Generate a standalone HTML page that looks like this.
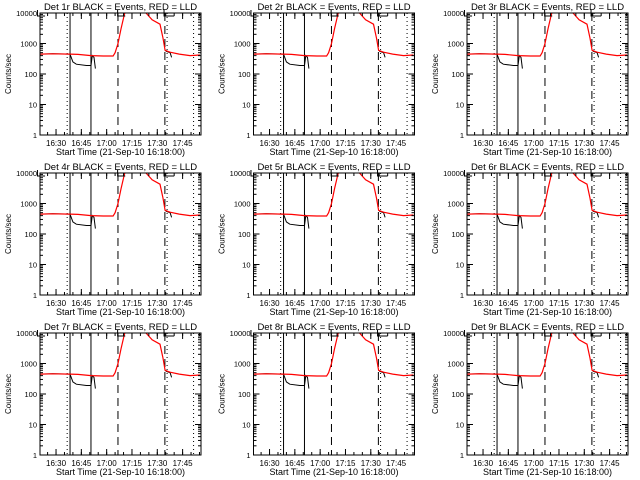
<!DOCTYPE html>
<html><head><meta charset="utf-8"><style>
html,body{margin:0;padding:0;background:#fff}
svg{display:block}
text{font-family:"Liberation Sans",sans-serif;fill:#000}
</style></head><body>
<svg id="chart" width="640" height="480" viewBox="0 0 640 480" xmlns="http://www.w3.org/2000/svg"></svg>
<script>
// data: time in minutes after 16:18:00
const detectors = ['1r','2r','3r','4r','5r','6r','7r','8r','9r'];
const xTickLabels = ['16:30','16:45','17:00','17:15','17:30','17:45'];
const xTickMinutes = [12,27,42,57,72,87];
const yTickValues = [1,10,100,1000,10000];
const yTickLabels = ['1','10','100','1000','10000'];
const redTimes = [2.5,10,20.3,25,32.7,40,45.8,47,48.7,50.5,52.3,53.5,65.3,68.9,73.6,75.4,76.6,79.6,85,91.4,97.3];
const redValues = [450,460,450,440,400,390,390,500,1000,3000,8000,14000,10000,6000,4300,1500,600,520,450,400,420];
// black series: null marks a data gap
const blackTimes = [2.5,10,20.3,22,24,30,32.7,33.5,34.5,35.3,null,77,79.6,80.5];
const blackValues = [450,460,450,250,210,190,190,400,350,150,null,560,500,350];
const vLineTimes = [18.6,20.3,32.7,48.7,76.5,77.8];
const vLineStyles = ['dot','solid','solid','dash','dash','dot'];
const extraDotTime = 93.5;

const NS='http://www.w3.org/2000/svg';
const svg=document.getElementById('chart');
function mk(tag,attrs,parent){const e=document.createElementNS(NS,tag);for(const k in attrs)e.setAttribute(k,attrs[k]);(parent||svg).appendChild(e);return e;}

const T0=2.5,T1=97.9,W=161,H=122;
detectors.forEach((d,i)=>{
  const ox=40+(i%3)*213.5, oy=13+Math.floor(i/3)*160;
  const g=mk('g',{});
  
  
  const xs=t=>ox+(t-T0)/(T1-T0)*W;
  const ys=v=>oy+H-Math.log10(v)/4*H;
  const clip=mk('clipPath',{id:'c'+i},g);
  mk('rect',{x:ox,y:oy,width:W,height:H},clip);
  const dashes={dot:'1,3',solid:'none',dash:'8,5'};
  vLineTimes.forEach((t,k)=>{
    const l=mk('line',{x1:xs(t),x2:xs(t),y1:oy,y2:oy+H,stroke:'#000','stroke-width':1,'stroke-dasharray':dashes[vLineStyles[k]]},g);
    
    
  });
  const ed=mk('line',{x1:xs(extraDotTime),x2:xs(extraDotTime),y1:oy,y2:oy+H,stroke:'#000','stroke-dasharray':'1,3'},g);
  
  
  // black series with gaps
  let bd='',pen=false;
  blackTimes.forEach((t,k)=>{
    if(t===null||blackValues[k]===null){pen=false;return;}
    bd+=(pen?'L':'M')+xs(t).toFixed(1)+','+ys(blackValues[k]).toFixed(1)+' ';pen=true;
  });
  const bl=mk('path',{d:bd,fill:'none',stroke:'#000','stroke-width':1,'clip-path':'url(#c'+i+')'},g);
  
  
  const rp=redTimes.map((t,k)=>xs(t).toFixed(1)+','+ys(redValues[k]).toFixed(1)).join(' ');
  const rl=mk('polyline',{points:rp,fill:'none',stroke:'#f00','stroke-width':1.2,'clip-path':'url(#c'+i+')'},g);
  
  
  [[1,3.5,5.5],[48.5,51.5,53],[76,80,82]].forEach(b=>{
    mk('path',{d:`M${xs(b[0])},${oy-3} V${oy+3} H${xs(b[2])}`,fill:'none',stroke:'#000'},g);
  });
  const box=mk('rect',{x:ox,y:oy,width:W,height:H,fill:'none',stroke:'#000','stroke-width':1},g);
  
  
  yTickValues.forEach((v,k)=>{
    const y=ys(v);
    mk('line',{x1:ox,x2:ox+6,y1:y,y2:y,stroke:'#000'},g);
    mk('line',{x1:ox+W-6,x2:ox+W,y1:y,y2:y,stroke:'#000'},g);
    const t=mk('text',{x:ox-3,y:y+3,'font-size':7.5,'text-anchor':'end'},g);
    t.textContent=yTickLabels[k];
    
    
    if(k<4)for(let m=2;m<10;m++){const yy=ys(v*m);
      mk('line',{x1:ox,x2:ox+3,y1:yy,y2:yy,stroke:'#000'},g);
      mk('line',{x1:ox+W-3,x2:ox+W,y1:yy,y2:yy,stroke:'#000'},g);}
  });
  xTickMinutes.forEach((tm,k)=>{
    const x=xs(tm);
    mk('line',{x1:x,x2:x,y1:oy+H,y2:oy+H-6,stroke:'#000'},g);
    mk('line',{x1:x,x2:x,y1:oy,y2:oy+6,stroke:'#000'},g);
    const t=mk('text',{x:x,y:oy+H+11,'font-size':8,'text-anchor':'middle'},g);
    t.textContent=xTickLabels[k];
    
    
  });
  for(let tm=7;tm<T1;tm+=5){const x=xs(tm);
    mk('line',{x1:x,x2:x,y1:oy+H,y2:oy+H-3,stroke:'#000'},g);
    mk('line',{x1:x,x2:x,y1:oy,y2:oy+3,stroke:'#000'},g);}
  const ti=mk('text',{x:ox+W/2,y:oy-3,'font-size':9.5,'text-anchor':'middle'},g);
  ti.textContent='Det '+d+' BLACK = Events, RED = LLD';
  
  
  const xt=mk('text',{x:ox+W/2,y:oy+H+20,'font-size':9,'text-anchor':'middle'},g);
  xt.textContent='Start Time (21-Sep-10 16:18:00)';
  
  
  const yt=mk('text',{x:0,y:0,'font-size':8,'text-anchor':'middle',transform:`translate(${ox-29},${oy+H/2}) rotate(-90)`},g);
  yt.textContent='Counts/sec';
  
  
});
</script>
</body></html>
